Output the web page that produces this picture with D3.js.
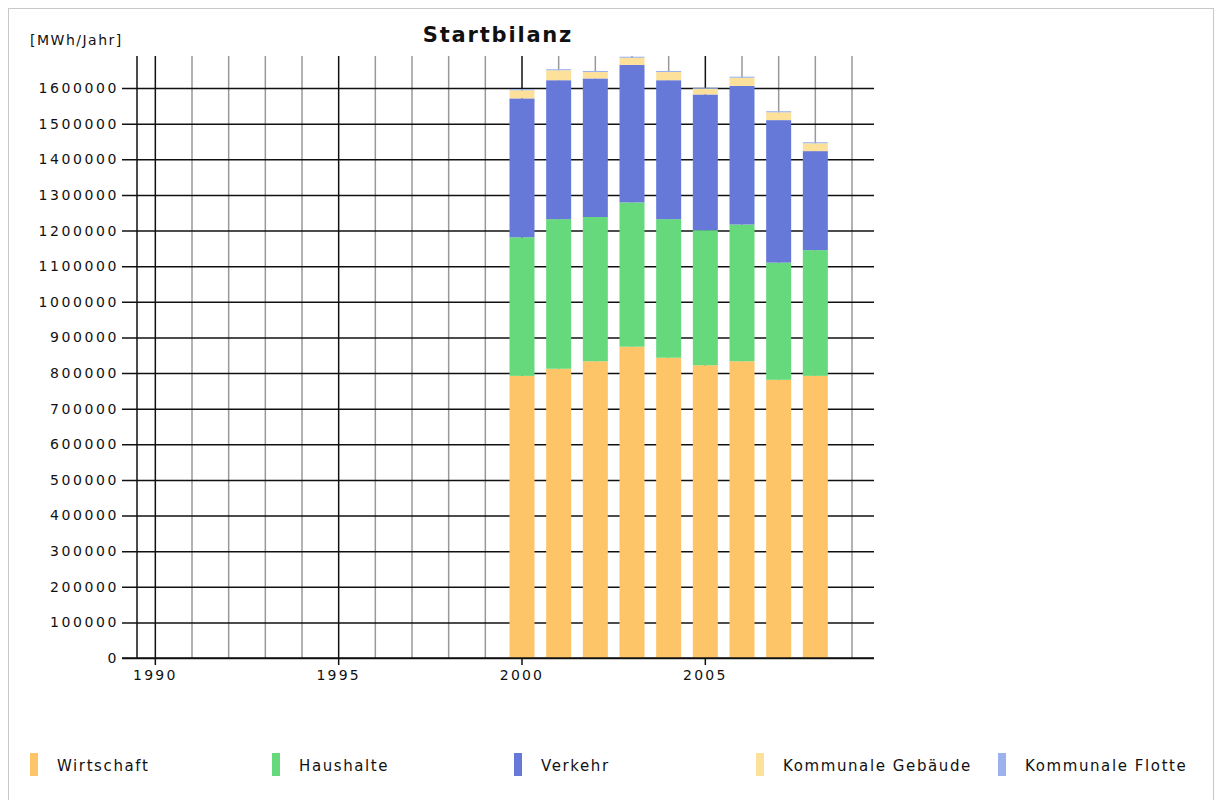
<!DOCTYPE html>
<html>
<head>
<meta charset="utf-8">
<script src="https://cdn.jsdelivr.net/npm/d3@7"></script>
<style>
  body { margin: 0; background: #fff; }
  svg text { font-family: "DejaVu Sans", sans-serif; fill: #111; }
</style>
</head>
<body>
<div id="canvas"></div>
<script>
// values, MWh/Jahr
const years = [2000, 2001, 2002, 2003, 2004, 2005, 2006, 2007, 2008];
const wirtschaft = [792000, 812000, 833000, 874000, 843000, 822000, 833000, 781000, 792000];
const haushalte = [389000, 420000, 405000, 405000, 389000, 379000, 384000, 329000, 353000];
const verkehr = [390000, 390000, 389000, 386000, 390000, 381000, 389000, 400000, 278000];
const gebaeude = [23000, 28000, 18000, 20000, 23000, 16000, 23000, 22000, 22000];
const flotte = [3000, 3000, 3000, 3000, 3000, 3000, 3000, 3000, 3000];

const seriesNames = ['Wirtschaft', 'Haushalte', 'Verkehr', 'Kommunale Gebäude', 'Kommunale Flotte'];
const seriesKeys = ['wirtschaft', 'haushalte', 'verkehr', 'gebaeude', 'flotte'];
const colors = ['#fdc567', '#66d97c', '#6679d9', '#fde19b', '#9bb2ec'];

const yTicks = [0, 100000, 200000, 300000, 400000, 500000, 600000, 700000, 800000,
  900000, 1000000, 1100000, 1200000, 1300000, 1400000, 1500000, 1600000];
const majorYears = [1990, 1995, 2000, 2005];
const minorYears = [1991, 1992, 1993, 1994, 1996, 1997, 1998, 1999,
  2001, 2002, 2003, 2004, 2006, 2007, 2008, 2009];

const W = 1222, H = 800;
const pLeft = 137, pRight = 874, pTop = 56, pBottom = 658;

const rows = years.map((yr, i) => ({
  year: yr,
  wirtschaft: wirtschaft[i],
  haushalte: haushalte[i],
  verkehr: verkehr[i],
  gebaeude: gebaeude[i],
  flotte: flotte[i]
}));

const svg = d3.select('#canvas')
    .append('svg')
    .attr('width', W)
    .attr('height', H);

// page frame
svg.append('rect')
    .attr('x', 8.5).attr('y', 8.5)
    .attr('width', 1205).attr('height', 820)
    .attr('fill', 'none')
    .attr('stroke', '#c8c8c8');

const x = d3.scaleLinear()
    .domain([1989.5, 2009.6])
    .range([pLeft, pRight]);

const y = d3.scaleLinear()
    .domain([0, 1690000])
    .range([pBottom, pTop]);

// vertical grid, minor years grey
svg.append('g')
  .selectAll('line')
  .data(minorYears)
  .enter()
  .append('line')
    .attr('x1', d => x(d)).attr('x2', d => x(d))
    .attr('y1', pTop).attr('y2', pBottom)
    .attr('stroke', '#999')
    .attr('stroke-width', 1.5);

// horizontal grid incl. ticks on the left
const yAxis = d3.axisLeft(y)
    .tickValues(yTicks)
    .tickSize(-(pRight - pLeft) - 15)
    .tickPadding(5)
    .tickFormat(d => d);

svg.append('g')
    .attr('transform', `translate(${pRight}, 0)`)
    .call(yAxis)
    .call(g => g.select('.domain').remove())
    .call(g => g.selectAll('line')
        .attr('x2', -(pRight - pLeft) - 15)
        .attr('stroke', '#111').attr('stroke-width', 1.5))
    .call(g => g.selectAll('text')
        .attr('x', -(pRight - pLeft) - 18)
        .attr('text-anchor', 'end')
        .attr('fill', '#111')
        .attr('font-size', 14)
        .attr('letter-spacing', 2.6));

// major years black, with ticks below
svg.append('g')
  .selectAll('line')
  .data(majorYears)
  .enter()
  .append('line')
    .attr('x1', d => x(d)).attr('x2', d => x(d))
    .attr('y1', pTop).attr('y2', pBottom + 7)
    .attr('stroke', '#111')
    .attr('stroke-width', 1.5);

svg.append('g')
  .selectAll('text')
  .data(majorYears)
  .enter()
  .append('text')
    .attr('x', d => x(d))
    .attr('y', pBottom + 22)
    .attr('text-anchor', 'middle')
    .attr('font-size', 14)
    .attr('letter-spacing', 2.2)
    .text(d => d);

// y axis line
svg.append('line')
    .attr('x1', pLeft).attr('x2', pLeft)
    .attr('y1', pTop).attr('y2', pBottom)
    .attr('stroke', '#111')
    .attr('stroke-width', 1.5);

// stacked bars
const stack = d3.stack().keys(seriesKeys);
const layers = stack(rows);
const barW = 25;

svg.append('g')
  .selectAll('g')
  .data(layers)
  .enter()
  .append('g')
    .attr('fill', (d, i) => colors[i])
  .selectAll('rect')
  .data(d => d)
  .enter()
  .append('rect')
    .attr('x', d => x(d.data.year) - barW / 2)
    .attr('y', d => y(d[1]))
    .attr('width', barW)
    .attr('height', d => y(d[0]) - y(d[1]));

// bottom line over the bars
svg.append('line')
    .attr('x1', pLeft - 15).attr('x2', pRight)
    .attr('y1', pBottom).attr('y2', pBottom)
    .attr('stroke', '#111')
    .attr('stroke-width', 1.5);

// title and unit
svg.append('text')
    .attr('x', 498)
    .attr('y', 42)
    .attr('text-anchor', 'middle')
    .attr('font-size', 21)
    .attr('font-weight', 'bold')
    .attr('letter-spacing', 1.8)
    .text('Startbilanz');

svg.append('text')
    .attr('x', 30)
    .attr('y', 45)
    .attr('font-size', 14)
    .attr('letter-spacing', 1.5)
    .text('[MWh/Jahr]');

// legend
const legend = svg.append('g')
    .attr('transform', 'translate(30, 753)');

const item = legend.selectAll('g')
    .data(seriesNames)
    .enter()
    .append('g')
    .attr('transform', (d, i) => `translate(${i * 242}, 0)`);

item.append('rect')
    .attr('width', 8)
    .attr('height', 23)
    .attr('fill', (d, i) => colors[i]);

item.append('text')
    .attr('x', 27)
    .attr('y', 18)
    .attr('font-size', 15)
    .attr('letter-spacing', 1.6)
    .text(d => d);
</script>
</body>
</html>
